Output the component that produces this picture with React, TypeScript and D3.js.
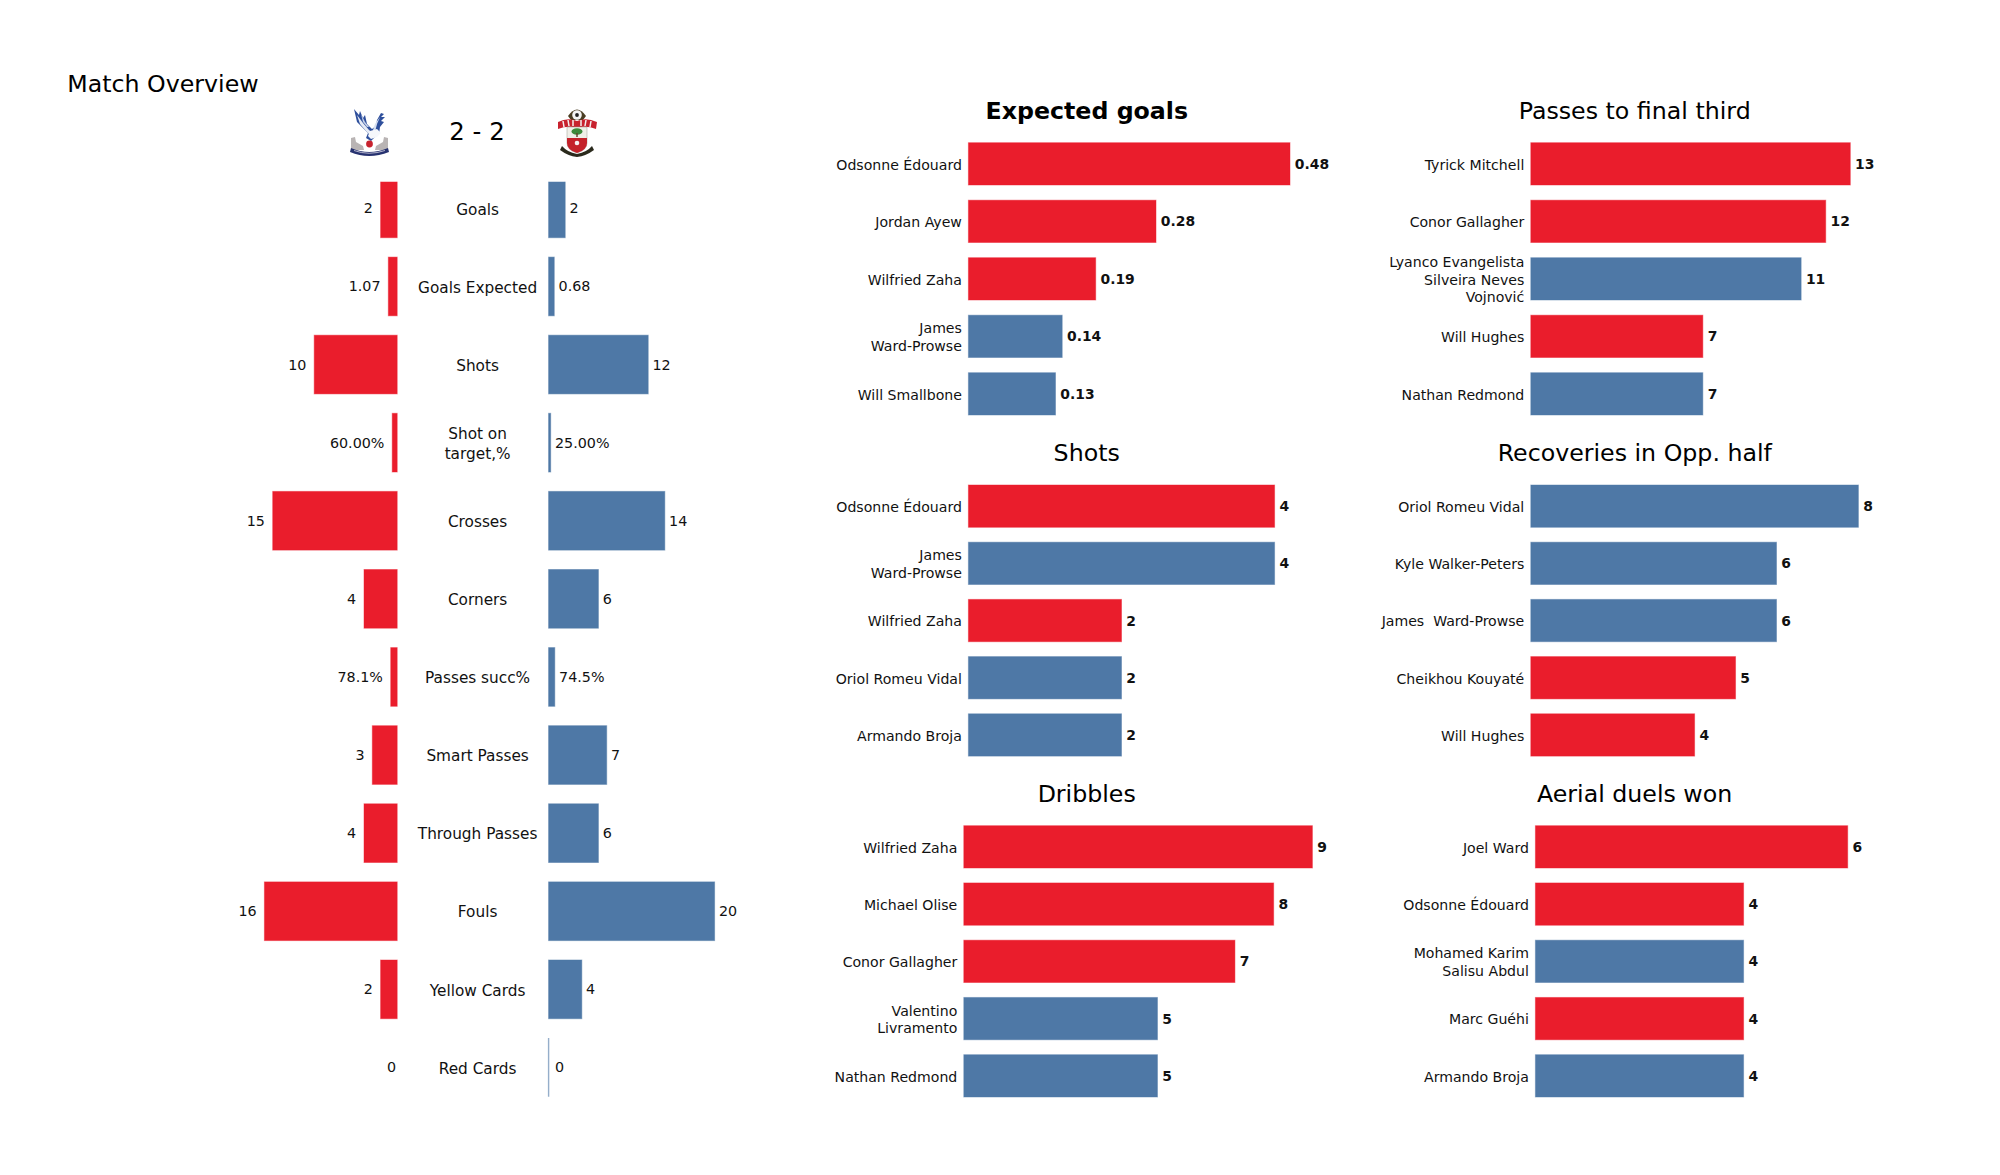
import React from "react";
import * as d3 from "d3";

// ---------- Data ----------
const statLabels = ["Goals", "Goals Expected", "Shots", "Shot on\ntarget,%", "Crosses", "Corners", "Passes succ%", "Smart Passes", "Through Passes", "Fouls", "Yellow Cards", "Red Cards"];
const homeValues = [2, 1.07, 10, 0.6, 15, 4, 0.781, 3, 4, 16, 2, 0];
const awayValues = [2, 0.68, 12, 0.25, 14, 6, 0.745, 7, 6, 20, 4, 0];
const homeText = ["2", "1.07", "10", "60.00%", "15", "4", "78.1%", "3", "4", "16", "2", "0"];
const awayText = ["2", "0.68", "12", "25.00%", "14", "6", "74.5%", "7", "6", "20", "4", "0"];

const xgPlayers = ["Odsonne Édouard", "Jordan Ayew", "Wilfried Zaha", "James\nWard-Prowse", "Will Smallbone"];
const xgValues = [0.48, 0.28, 0.19, 0.14, 0.13];
const xgTeams = ["h", "h", "h", "a", "a"];

const shotPlayers = ["Odsonne Édouard", "James\nWard-Prowse", "Wilfried Zaha", "Oriol Romeu Vidal", "Armando Broja"];
const shotValues = [4, 4, 2, 2, 2];
const shotTeams = ["h", "a", "h", "a", "a"];

const dribblePlayers = ["Wilfried Zaha", "Michael Olise", "Conor Gallagher", "Valentino\nLivramento", "Nathan Redmond"];
const dribbleValues = [9, 8, 7, 5, 5];
const dribbleTeams = ["h", "h", "h", "a", "a"];

const finalThirdPlayers = ["Tyrick Mitchell", "Conor Gallagher", "Lyanco Evangelista\nSilveira Neves\nVojnović", "Will Hughes", "Nathan Redmond"];
const finalThirdValues = [13, 12, 11, 7, 7];
const finalThirdTeams = ["h", "h", "a", "h", "a"];

const recoveryPlayers = ["Oriol Romeu Vidal", "Kyle Walker-Peters", "James  Ward-Prowse", "Cheikhou Kouyaté", "Will Hughes"];
const recoveryValues = [8, 6, 6, 5, 4];
const recoveryTeams = ["a", "a", "a", "h", "h"];

const aerialPlayers = ["Joel Ward", "Odsonne Édouard", "Mohamed Karim\nSalisu Abdul", "Marc Guéhi", "Armando Broja"];
const aerialValues = [6, 4, 4, 4, 4];
const aerialTeams = ["h", "h", "a", "h", "a"];

// ---------- Style ----------
const RED = "#EA1D2C";
const BLUE = "#4E78A6";
const FONT = "'DejaVu Sans', sans-serif";
const TITLE_SIZE = 23.7;
const teamColor = (t: string) => (t === "h" ? RED : BLUE);

// ---------- Horizontal bar panel ----------
type PanelProps = {
  title: string; bold?: boolean; players: string[]; values: number[]; teams: string[];
  x0: number; x1: number; top: number; step: number; titleX: number; titleY: number; fmt?: (v: number) => string;
};

function Panel({ title, bold, players, values, teams, x0, x1, top, step, titleX, titleY, fmt }: PanelProps) {
  const bw = 42.3;
  const y = d3.scaleBand<number>()
    .domain(d3.range(players.length))
    .range([top, top + step * (players.length - 1) + bw])
    .paddingInner(1 - bw / step)
    .paddingOuter(0);
  const x = d3.scaleLinear().domain([0, d3.max(values) as number]).range([x0, x1]);
  const f = fmt ?? ((v: number) => String(v));
  return (
    <g>
      <text x={titleX} y={titleY} textAnchor="middle" fontSize={TITLE_SIZE} fontWeight={bold ? 700 : 400} fill="#000">{title}</text>
      {players.map((name, i) => {
        const cy = (y(i) as number) + y.bandwidth() / 2;
        const lines = name.split("\n");
        return (
          <g key={i}>
            <rect x={x0} y={y(i)} width={x(values[i]) - x0} height={y.bandwidth()} fill={teamColor(teams[i])}
              stroke={teamColor(teams[i])} strokeOpacity={0.45} strokeWidth={1} />
            <text x={x0 - 6.5} y={cy + 5.8 - ((lines.length - 1) * 17.5) / 2} textAnchor="end" fontSize={14.1} fill="#111"
              style={{ whiteSpace: "pre" }}>
              {lines.map((l, k) => (
                <tspan key={k} x={x0 - 6.5} dy={k === 0 ? 0 : 17.5}>{l}</tspan>
              ))}
            </text>
            <text x={x(values[i]) + 4.8} y={cy + 5} fontSize={13.9} fontWeight={700} fill="#111">{f(values[i])}</text>
          </g>
        );
      })}
    </g>
  );
}

// ---------- Central comparison ----------
function Comparison() {
  const redEdge = 397.2;
  const blueEdge = 548.6;
  const w = d3.scaleLinear().domain([0, 20]).range([0, 166]);
  const y = d3.scaleBand<number>()
    .domain(d3.range(statLabels.length))
    .range([179, 179 + 78.1 * (statLabels.length - 1) + 58.7])
    .paddingInner(1 - 58.7 / 78.1)
    .paddingOuter(0);
  return (
    <g>
      <clipPath id="statClip"><rect x={200} y={181.7} width={600} height={950} /></clipPath>
      <g clipPath="url(#statClip)">
        {statLabels.map((_, i) => (
          <g key={i}>
            {homeValues[i] > 0 && (
              <rect x={redEdge - w(homeValues[i])} y={y(i)} width={w(homeValues[i])} height={y.bandwidth()} fill={RED}
                stroke={RED} strokeOpacity={0.45} strokeWidth={1} />
            )}
            {awayValues[i] > 0 ? (
              <rect x={blueEdge} y={y(i)} width={w(awayValues[i])} height={y.bandwidth()} fill={BLUE}
                stroke={BLUE} strokeOpacity={0.5} strokeWidth={1} />
            ) : (
              <line x1={blueEdge} x2={blueEdge} y1={y(i)} y2={(y(i) as number) + y.bandwidth()}
                stroke={BLUE} strokeOpacity={0.6} strokeWidth={1.4} />
            )}
          </g>
        ))}
      </g>
      {statLabels.map((label, i) => {
        const cy = (y(i) as number) + y.bandwidth() / 2;
        const lines = label.split("\n");
        return (
          <g key={i}>
            <text x={477.6} y={cy + 6.2 - ((lines.length - 1) * 19.5) / 2} textAnchor="middle" fontSize={15.3} fill="#111">
              {lines.map((l, k) => (
                <tspan key={k} x={477.6} dy={k === 0 ? 0 : 19.5}>{l}</tspan>
              ))}
            </text>
            <text x={redEdge - w(homeValues[i]) - (homeValues[i] === 0 ? 1.2 : 7.8)} y={cy + 5} textAnchor="end" fontSize={14.3} fill="#111">{homeText[i]}</text>
            <text x={blueEdge + w(awayValues[i]) + (awayValues[i] === 0 ? 6.3 : 4.3)} y={cy + 5} fontSize={14.3} fill="#111">{awayText[i]}</text>
          </g>
        );
      })}
    </g>
  );
}

// ---------- Club crests (decorative, hand-drawn) ----------
function PalaceCrest() {
  return (
    <g transform="translate(340,100)" filter="url(#soft)">
      <path d="M11 38 L15 37 L16 42 L23 46 L24 50 L11 50 Z" fill="#b9b4b4" />
      <path d="M48 38 L44 37 L43 42 L36 46 L35 50 L48 50 Z" fill="#b9b4b4" />
      <path d="M14 9 L19 15 L20 11 L23 18 L25 15 L27 24 L32 29 L36 26 L37 20 L41 13 L44 14 L41 17 L45 17 L41 21 L44 22 L40 27 L39 34 L35 37 L31 41 L26 38 L28 33 L22 27 L17 22 Z" fill="#2f4f9c" />
      <path d="M17 15 L23 23 L29 30 L33 33 L31 36 L26 31 L20 24 Z" fill="#e6ebf5" />
      <path d="M21 14 L25 22 L29 27 L27 27 L23 22 Z" fill="#c6d2ea" />
      <path d="M40 17 L37 24 L35 32 L33 30 L35 24 Z" fill="#d6dff0" />
      <path d="M30 31 L37 29 L41 33 L37 37 L31 39 L28 36 Z" fill="#f5f7fb" />
      <circle cx={29.5} cy={44} r={3.4} fill="#c8242f" />
      <path d="M11 48 Q29 56 48 48 L49 52 Q29 60 10 52 Z" fill="#27306f" />
      <path d="M14 50.5 Q29 56 45 50.5" fill="none" stroke="#d8d8e6" strokeWidth={0.8} />
    </g>
  );
}

function SaintsCrest() {
  return (
    <g transform="translate(550,100)" filter="url(#soft)">
      <path d="M18 16 Q27 3 36 16 L33 20 L21 20 Z" fill="#4a3d22" />
      <circle cx={27} cy={15} r={4.8} fill="#f4f4f4" />
      <circle cx={27} cy={15} r={1.9} fill="#222" />
      <path d="M8 22 Q18 17 27 21 Q36 17 47 22 L46 29 Q36 25 27 28 Q18 25 8 29 Z" fill="#c8242f" />
      <path d="M13 21 L14 27 M18 20 L19 26 M23 20 L23 26 M31 20 L31 26 M36 20 L35 26 M41 21 L40 27" stroke="#f3eded" strokeWidth={1.5} />
      <path d="M17 27 L37 27 L37 43 Q37 50 27 53 Q17 50 17 43 Z" fill="#efefe8" stroke="#9a9a90" strokeWidth={0.5} />
      <path d="M17 38 L37 38 L37 43 Q37 50 27 53 Q17 50 17 43 Z" fill="#c4202c" />
      <ellipse cx={27} cy={31.5} rx={5.5} ry={3.2} fill="#3c8a3a" />
      <rect x={26.3} y={33} width={1.4} height={4} fill="#5c4428" />
      <circle cx={27} cy={43} r={2.3} fill="#f6f0f0" />
      <path d="M12 46 Q17 52 27 54 Q37 52 42 46 L44 50 Q36 56 27 57 Q18 56 10 50 Z" fill="#2b2a1e" />
    </g>
  );
}

// ---------- App ----------
export default function App() {
  return (
    <svg width={2000} height={1175} viewBox="0 0 2000 1175"
      style={{ position: "absolute", left: 0, top: 0, display: "block", background: "#fff" }}
      fontFamily={FONT}>
      <defs>
        <filter id="soft" x="-10%" y="-10%" width="120%" height="120%"><feGaussianBlur stdDeviation="0.35" /></filter>
      </defs>
      <text x={67.3} y={91.7} fontSize={TITLE_SIZE} fill="#000">Match Overview</text>
      <text x={477} y={140} textAnchor="middle" fontSize={24.4} fill="#000">2 - 2</text>
      <PalaceCrest />
      <SaintsCrest />
      <Comparison />
      <Panel title="Expected goals" bold players={xgPlayers} values={xgValues} teams={xgTeams} x0={968.4} x1={1290} top={142.7} step={57.5} titleX={1086.8} titleY={119.3} fmt={d3.format(".2f")} />
      <Panel title="Shots" players={shotPlayers} values={shotValues} teams={shotTeams} x0={968.4} x1={1274.6} top={485} step={57.2} titleX={1086.7} titleY={461.3} />
      <Panel title="Dribbles" players={dribblePlayers} values={dribbleValues} teams={dribbleTeams} x0={963.8} x1={1312.4} top={825.7} step={57.25} titleX={1086.7} titleY={802.3} />
      <Panel title="Passes to final third" players={finalThirdPlayers} values={finalThirdValues} teams={finalThirdTeams} x0={1530.8} x1={1850.3} top={142.7} step={57.5} titleX={1634.7} titleY={119.3} />
      <Panel title="Recoveries in Opp. half" players={recoveryPlayers} values={recoveryValues} teams={recoveryTeams} x0={1530.8} x1={1858.4} top={485} step={57.2} titleX={1634.8} titleY={461.3} />
      <Panel title="Aerial duels won" players={aerialPlayers} values={aerialValues} teams={aerialTeams} x0={1535.4} x1={1847.7} top={825.7} step={57.25} titleX={1634.6} titleY={802.3} />
    </svg>
  );
}
